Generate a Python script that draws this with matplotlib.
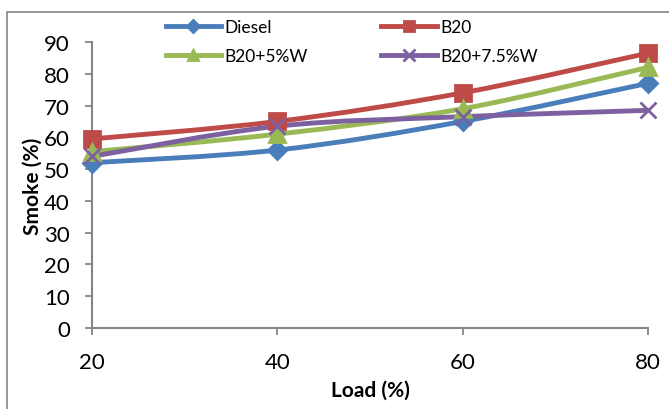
"""Smoke (%) vs load (%) for diesel and B20 blends, Excel-style smoothed lines."""
import numpy as np
import matplotlib.pyplot as plt
from matplotlib.path import Path
from matplotlib.patches import PathPatch, Rectangle
from matplotlib.lines import Line2D

plt.rcParams['font.family'] = ['Lato', 'DejaVu Sans']

load = [20, 40, 60, 80]
diesel = [52, 56, 65, 77]
b20 = [59.5, 65, 74, 86.5]
b20_5w = [55.5, 61, 69, 82]
b20_75w = [54, 63.5, 66.5, 68.5]

labels = ["Diesel", "B20", "B20+5%W", "B20+7.5%W"]
series = [diesel, b20, b20_5w, b20_75w]
colors = ["#4A7EBB", "#BE4B48", "#98B954", "#7D60A0"]
markers = ["D", "s", "^", "x"]
msizes = [9, 11, 11, 12]


def smooth_path(x, y):
    # Excel-like Bezier smoothing through the data points
    pts = np.column_stack([x, y]).astype(float)
    n = len(pts)
    verts = [pts[0]]
    codes = [Path.MOVETO]
    for i in range(n - 1):
        p0 = pts[i - 1] if i > 0 else pts[i]
        p1, p2 = pts[i], pts[i + 1]
        p3 = pts[i + 2] if i + 2 < n else pts[i + 1]
        verts += [p1 + (p2 - p0) / 6, p2 - (p3 - p1) / 6, p2]
        codes += [Path.CURVE4] * 3
    return Path(verts, codes)


fig = plt.figure(figsize=(6.69, 4.10), dpi=100)
ax = fig.add_axes([92 / 669, 1 - 329 / 410, (648 - 92) / 669, (329 - 43) / 410])

for vals, c, m, ms in zip(series, colors, markers, msizes):
    ax.add_patch(PathPatch(smooth_path(load, vals), facecolor='none',
                           edgecolor=c, lw=3.5, capstyle='round', zorder=2))
    ax.plot(load, vals, ls='none', marker=m, ms=ms, color=c, mew=2,
            clip_on=False, zorder=3)

ax.set_xlim(20, 80)
ax.set_ylim(0, 90)
ax.set_xticks(load)
ax.set_yticks(range(0, 91, 10))
ax.tick_params(labelsize=16, color='#868686', width=1.3, length=5)
ax.tick_params(axis='x', pad=12)
ax.tick_params(axis='y', pad=11)
for s in ['top', 'right']:
    ax.spines[s].set_visible(False)
for s in ['left', 'bottom']:
    ax.spines[s].set_color('#868686')
    ax.spines[s].set_linewidth(1.5)
ax.set_xlabel("Load (%)", fontsize=15, fontweight='bold', labelpad=6)
ax.set_ylabel("Smoke (%)", fontsize=15, fontweight='bold', labelpad=1)

handles = [Line2D([], [], color=c, lw=3.5, marker=m, ms=ms * 0.7, mew=2)
           for c, m, ms in zip(colors, markers, msizes)]
# legend fills column-wise, so reorder to read row-wise
order = [0, 2, 1, 3]
fig.legend([handles[i] for i in order], [labels[i] for i in order],
           ncol=2, loc='upper left', frameon=False,
           bbox_to_anchor=(150 / 669, 1 - 4 / 410), fontsize=12.5,
           handlelength=3.2, handletextpad=0.2, columnspacing=4.2,
           labelspacing=0.75, numpoints=1)

# chart frame (cropped at right and bottom)
fig.patches.append(Rectangle((7 / 669, -0.1), 1.1, 1.1 - 13 / 410,
                             transform=fig.transFigure, fill=False,
                             edgecolor='#868686', lw=1.2))

fig.savefig("out.png", dpi=100)
